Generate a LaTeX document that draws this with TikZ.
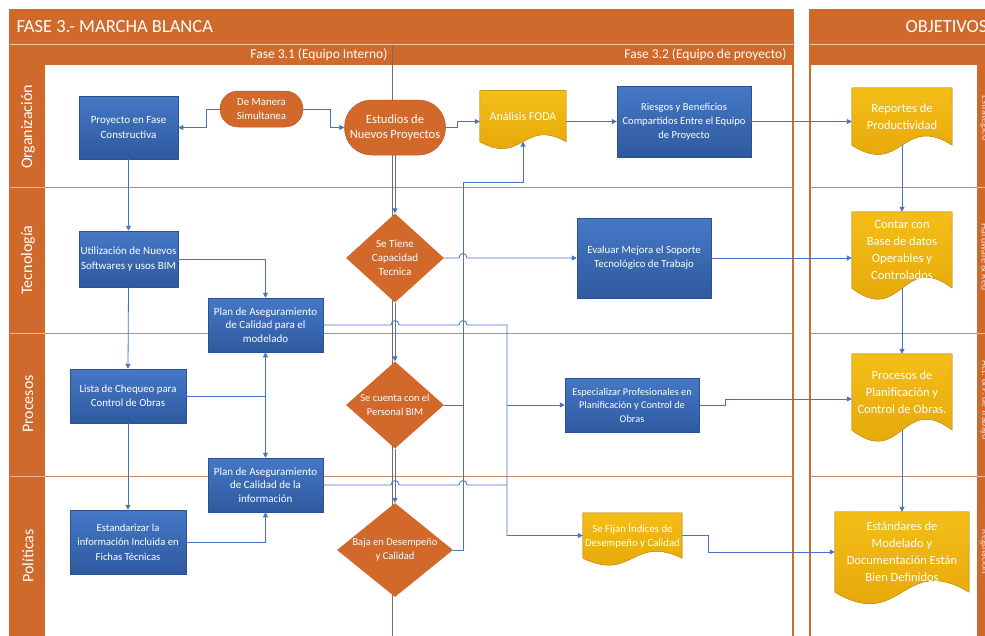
\documentclass[tikz,border=0pt]{standalone}
\usepackage{fontspec}
\setmainfont{Carlito}
\usetikzlibrary{arrows.meta,shapes.geometric,calc}

\definecolor{band}{HTML}{D0692C}
\definecolor{lanec}{HTML}{CC8A62}
\definecolor{blueL}{HTML}{4678C6}
\definecolor{blueD}{HTML}{2E5A9E}
\definecolor{blueE}{HTML}{2A5293}
\definecolor{ora}{HTML}{D2692A}
\definecolor{oraD}{HTML}{B85A22}
\definecolor{goldL}{HTML}{F4BE18}
\definecolor{goldD}{HTML}{E2A306}
\definecolor{goldE}{HTML}{D39A08}
\definecolor{flowc}{HTML}{4A72C4}
\definecolor{sepc}{HTML}{7D6A60}

\pgfdeclarelayer{back}
\pgfdeclarelayer{docs}
\pgfsetlayers{back,docs,main}

% a small bump where a horizontal connector crosses a vertical one
\newcommand\hopx[2]{-- (#1-4,#2) .. controls +(0,-6) and +(0,-6) .. (#1+4,#2)}

% wavy "document" outline behind a named node
\newcommand\docfill[2]{%
  \begin{pgfonlayer}{docs}
    \filldraw[docshade] (#1.north west) -- (#1.north east) -- (#1.south east)
      .. controls ($(#1.south)+(0,-#2)$) and ($(#1.south)+(0,#2)$) .. (#1.south west) -- cycle;
  \end{pgfonlayer}}

\tikzset{
  wh/.style 2 args={minimum width=#1pt, minimum height=#2pt},
  flow/.style={draw=flowc, line width=0.8pt, -{Triangle[length=5pt,width=5pt]}},
  flowboth/.style={draw=flowc, line width=0.8pt, {Triangle[length=5pt,width=5pt]}-{Triangle[length=5pt,width=5pt]}},
  link/.style={draw=flowc, line width=0.8pt},
  box/.style={rectangle, draw=blueE, line width=0.5pt, top color=blueL, bottom color=blueD,
    text=white, align=center, inner sep=1pt, font=\fontsize{10.5}{13.5}\selectfont},
  term/.style={rectangle, rounded corners=#1, fill=ora, draw=oraD, line width=0.5pt,
    text=white, align=center, inner sep=1pt},
  docn/.style={rectangle, inner sep=1pt, text=white, align=center, font=\fontsize{12.5}{17}\selectfont},
  docshade/.style={top color=goldL, bottom color=goldD, draw=goldE, line width=0.5pt},
  dia/.style={diamond, fill=ora, inner sep=0pt},
  dtext/.style={text=white, align=center, font=\fontsize{10.8}{14}\selectfont},
  lanelab/.style={text=white, font=\fontsize{16}{18}\selectfont},
  sidelab/.style={text=white!85!band, font=\fontsize{10}{12}\selectfont},
  headlab/.style={text=white, font=\fontsize{13.5}{15}\selectfont},
  toplab/.style={text=white, font=\fontsize{18.5}{20}\selectfont},
}

\begin{document}
\begin{tikzpicture}[x=1pt,y=-1pt]
\useasboundingbox (0,0) rectangle (985,635);
\clip (0,0) rectangle (985,635);

\begin{pgfonlayer}{back}
  \fill[white] (0,0) rectangle (985,635);
  % main swimlane panel
  \fill[band] (10,10) rectangle (793,65);
  \fill[band] (10,65) rectangle (45,650);
  \draw[band, line width=1.4pt] (10,10) rectangle (793,650);
  \draw[white!65!band, line width=0.6pt] (10,44.5) -- (793,44.5);
  \foreach \y in {187,333,476} {
    \draw[lanec, line width=0.8pt] (45,\y) -- (793,\y);
    \draw[white!55!band, line width=0.6pt] (10,\y) -- (45,\y);
  }
  % objectives panel
  \fill[band] (810,10) rectangle (1000,65);
  \fill[band] (977,65) rectangle (1000,650);
  \draw[band, line width=1.4pt] (810,10) rectangle (1000,650);
  \draw[white!65!band, line width=0.6pt] (810,44.5) -- (1000,44.5);
  \foreach \y in {187,333,476} {
    \draw[lanec, line width=0.8pt] (810,\y) -- (977,\y);
    \draw[white!55!band, line width=0.6pt] (977,\y) -- (1000,\y);
  }
  % boundary between sub-phases
  \draw[sepc, line width=0.7pt] (392,45) -- (392,650);
\end{pgfonlayer}

% headings
\node[toplab, anchor=west] (title) at (13,27) {FASE 3.- MARCHA BLANCA};
\node[toplab, anchor=west] (obj) at (902,27) {OBJETIVOS};
\node[headlab, anchor=east] (f31) at (391,55) {Fase 3.1 (Equipo Interno)};
\node[headlab, anchor=east] (f32) at (790,55) {Fase 3.2 (Equipo de proyecto)};

% lane names
\node[lanelab, rotate=90] (lorg) at (28,127) {Organización};
\node[lanelab, rotate=90] (ltec) at (28,260) {Tecnología};
\node[lanelab, rotate=90] (lpro) at (28,404) {Procesos};
\node[lanelab, rotate=90] (lpol) at (28,556) {Políticas};

\node[sidelab, rotate=-90] (sorg) at (985,118) {Estratégico};
\node[sidelab, rotate=-90] (stec) at (985,257) {Hardware \& Red};
\node[sidelab, rotate=-90] (spro) at (985,400) {Act. \& P. de Trabajo};
\node[sidelab, rotate=-90] (spol) at (985,552) {Regulación};

% Organización
\node[box, wh={99}{63}, font=\fontsize{11}{14.5}\selectfont] (proy) at (128.5,127.5) {Proyecto en Fase\\Constructiva};
\node[term=18pt, wh={83}{36}, font=\fontsize{10.8}{13.5}\selectfont] (dms) at (261.5,109) {De Manera\\Simultanea};
\node[term=27pt, wh={101}{55}, font=\fontsize{12.5}{15.5}\selectfont] (est) at (395,127.5) {Estudios de\\Nuevos Proyectos};
\node[docn, wh={86}{51}, font=\fontsize{12}{14}\selectfont] (foda) at (523,116) {Análisis FODA};
\node[box, wh={134}{71}, font=\fontsize{10.6}{14}\selectfont] (ries) at (684,121.5) {Riesgos y Beneficios\\Compartidos Entre el Equipo\\de Proyecto};
\node[docn, wh={100}{57}] (rep) at (902,116.5) {Reportes de\\Productividad};

% Tecnología
\node[box, wh={99}{56}, font=\fontsize{11}{14.5}\selectfont] (util) at (128.5,259) {Utilización de Nuevos\\Softwares y usos BIM};
\node[box, wh={115}{54}, font=\fontsize{11}{13.5}\selectfont] (pm) at (265.5,325) {Plan de Aseguramiento\\de Calidad para el\\modelado};
\node[dia, wh={98}{89}] (st) at (395,258) {};
\node[dtext, font=\fontsize{11}{14}\selectfont] (stt) at (st.center) {Se Tiene\\Capacidad\\Tecnica};
\node[box, wh={134}{80}, font=\fontsize{10.8}{14}\selectfont] (ev) at (644,258) {Evaluar Mejora el Soporte\\Tecnológico de Trabajo};
\node[docn, wh={100}{76}] (ct) at (902,250) {Contar con\\Base de datos\\Operables y\\Controlados};

% Procesos
\node[box, wh={116}{54}, font=\fontsize{10.8}{14}\selectfont] (lista) at (128,396) {Lista de Chequeo para\\Control de Obras};
\node[dia, wh={98}{87}] (sc) at (395,405) {};
\node[dtext, font=\fontsize{10.5}{14}\selectfont] (sct) at (sc.center) {Se cuenta con el\\Personal BIM};
\node[box, wh={134}{54}, font=\fontsize{10.3}{13.5}\selectfont] (esp) at (632,405) {Especializar Profesionales en\\Planificación y Control de\\Obras};
\node[docn, wh={100}{76}] (proc) at (902,392) {Procesos de\\Planificación y\\Control de Obras.};
\node[box, wh={115}{54}, font=\fontsize{11}{13.5}\selectfont] (pi) at (265.5,485) {Plan de Aseguramiento\\de Calidad de la\\información};

% Políticas
\node[box, wh={116}{64}, font=\fontsize{10.6}{14.5}\selectfont] (est2) at (128,542) {Estandarizar la\\información Incluida en\\Fichas Técnicas};
\node[dia, wh={116}{94}] (baja) at (395,550) {};
\node[dtext, font=\fontsize{10.5}{14}\selectfont] (bajat) at (baja.center) {Baja en Desempeño\\y Calidad};
\node[docn, wh={99}{45}, font=\fontsize{10.8}{14}\selectfont] (sf) at (632.5,535.5) {Se Fijan Índices de\\Desempeño y Calidad};
\node[docn, wh={134}{80}] (estd) at (902,552) {Estándares de\\Modelado y\\Documentación Están\\Bien Definidos};

% document outlines
\docfill{foda}{24}
\docfill{rep}{32}
\docfill{ct}{38}
\docfill{proc}{38}
\docfill{sf}{24}
\docfill{estd}{40}

% connectors: left column
\draw[flow] (dms.west) -- ++(-13,0) |- (proy.east);
\draw[flow] (dms.east) -- ++(27,0) |- (est.west);
\draw[flow] (proy.south) -- (util.north);
\draw[flow] (util.east) -| (pm.north);
\draw[flow] (util.south) -- (lista.north);
\draw[link] (lista.east) -- (lista.east -| pm.south);
\draw[flowboth] (pm.south) -- (pi.north);
\draw[flow] (lista.south) -- (est2.north);
\draw[flow] (est2.east) -| (pi.south);

% connectors: decision column
\draw[flow] (est.south) -- (st.north);
\draw[flow] (st.south) -- (sc.north);
\draw[flow] (sc.south) -- (baja.north);
\coordinate (bus) at (463,182);
\draw[flow] (baja.east) -| (bus) -| (foda.south);
\draw[link] (sc.east) -- (sc.east -| bus);
\draw[flow] (st.east) \hopx{463}{258} -- (ev.west);

% connectors: quality plans
\draw[flow] (pm.east) \hopx{395}{325} \hopx{463}{325} -- (507,325) |- (sf.west);
\draw[link] (pi.east) \hopx{395}{485} \hopx{463}{485} -- (507,485);
\draw[flow] (esp.west -| 507,0) -- (esp.west);

% connectors: project team phase
\draw[flow] (est.east) -- ++(12,0) |- (foda.west |- ries.west);
\draw[flow] (foda.east |- ries.west) -- (ries.west);
\draw[flow] (ries.east) -- (ries.east -| rep.west);
\draw[flow] (ev.east) -- (ev.east -| ct.west);
\draw[flow] (esp.east) -- ++(26,0) -- ++(0,-6) coordinate (k) -- (k -| proc.west);
\draw[flow] (sf.east) -- ++(26,0) |- (estd.west);

% connectors: objectives
\draw[flow] (rep.south) -- (ct.north);
\draw[flow] (ct.south) -- (proc.north);
\draw[flow] (proc.south) -- (estd.north);
\end{tikzpicture}
\end{document}
